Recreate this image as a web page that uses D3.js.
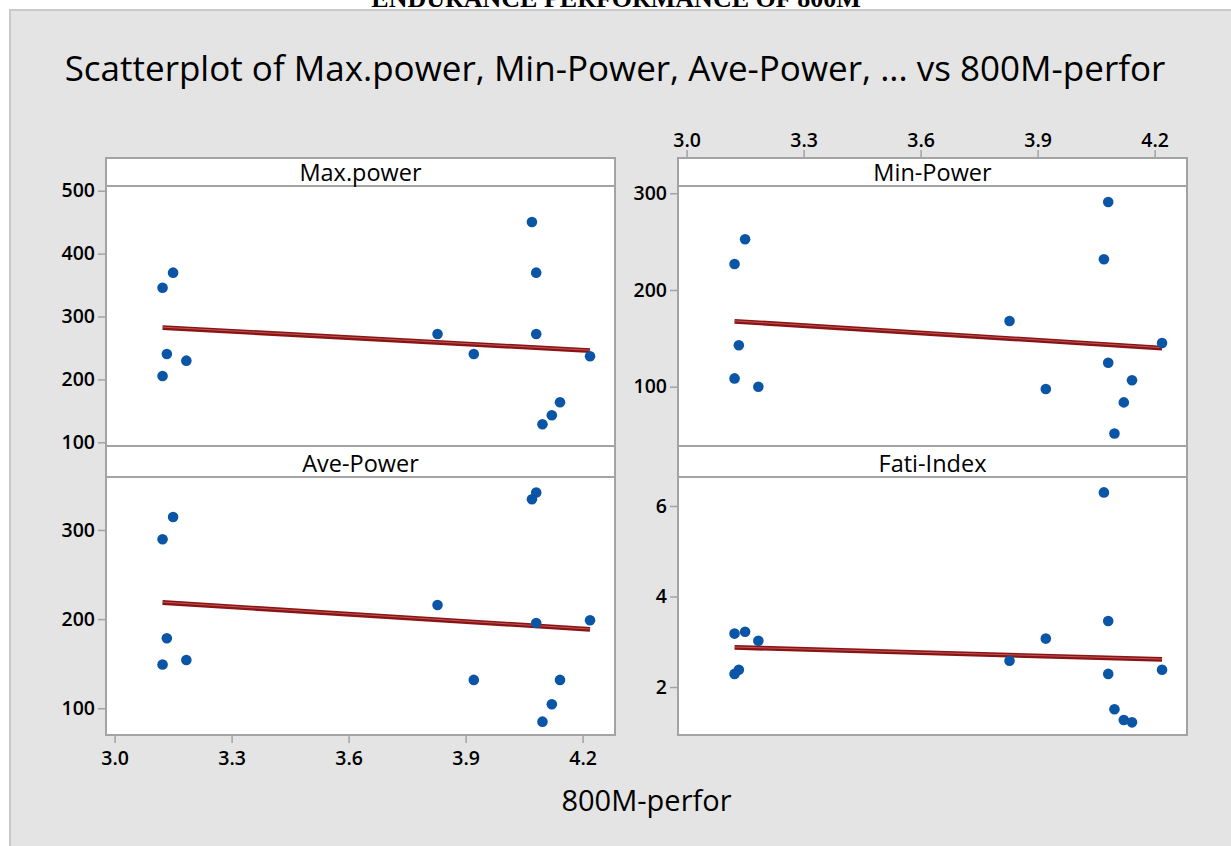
<!DOCTYPE html>
<html>
<head>
<meta charset="utf-8">
<script src="https://cdn.jsdelivr.net/npm/d3@7"></script>
<style>
  html, body { margin: 0; padding: 0; background: #ffffff; }
  svg { display: block; }
  text { font-family: "Open Sans", "Noto Sans", sans-serif; fill: #000; }
</style>
</head>
<body>
<svg id="chart" width="1231" height="846"></svg>
<script>
// 800 m performance time for each athlete (shared x in every panel)
const perfor = [3.123, 3.123, 3.134, 3.150, 3.184, 3.828, 3.921, 4.070, 4.081, 4.081, 4.097, 4.121, 4.142, 4.219];

// Responses, one value per athlete in the same order as `perfor`
const maxPower  = [345.8, 205.4, 240.4, 369.7, 229.8, 272.2, 240.4, 450.2, 369.7, 272.2, 128.6, 142.9, 163.6, 236.7];
const minPower  = [226.9, 108.6, 142.8, 252.4, 100.0, 167.9, 97.6, 231.7, 291.0, 124.8, 51.7, 83.8, 106.6, 145.2];
const avePower  = [289.5, 149.0, 178.5, 314.6, 154.2, 215.9, 131.8, 334.4, 341.9, 195.7, 85.0, 104.5, 131.8, 198.7];
const fatiIndex = [3.18, 2.29, 2.38, 3.22, 3.02, 2.58, 3.07, 6.30, 3.46, 2.29, 1.51, 1.27, 1.22, 2.38];

const panelNames = ["Max.power", "Min-Power", "Ave-Power", "Fati-Index"];
const xTicks = [3.0, 3.3, 3.6, 3.9, 4.2];
const maxTicks = [100, 200, 300, 400, 500];
const minTicks = [100, 200, 300];
const aveTicks = [100, 200, 300];
const fatiTicks = [2, 4, 6];

const chartTitle = "Scatterplot of Max.power, Min-Power, Ave-Power, ... vs 800M-perfor";
const xTitle = "800M-perfor";
const docHeading = "ENDURANCE PERFORMANCE OF 800M";

const svg = d3.select("#chart");

// Page heading partially hidden above the graph window
svg.append("text")
  .attr("x", 616).attr("y", 7)
  .attr("text-anchor", "middle")
  .style("font-family", "'Liberation Serif', 'DejaVu Serif', serif")
  .style("font-weight", "bold")
  .style("font-size", "26px")
  .text(docHeading);

// Graph window background
svg.append("rect")
  .attr("x", 10).attr("y", 10).attr("width", 1231).attr("height", 846)
  .attr("fill", "#e4e4e4").attr("stroke", "#c9c9c9").attr("stroke-width", 2);

svg.append("text")
  .attr("x", 615).attr("y", 81)
  .attr("text-anchor", "middle")
  .style("font-size", "35px")
  .style("font-weight", "500")
  .text(chartTitle);

// Panel geometry
const cols = [{ l: 106, r: 615 }, { l: 678, r: 1187 }];
const rows = [
  { top: 158, head: 186, bottom: 446 },
  { top: 446, head: 477, bottom: 735 }
];
const xDomain = [2.978, 4.283];

const panels = [
  { name: panelNames[0], values: maxPower,  ticks: maxTicks,  domain: [94.1, 507.5], col: 0, row: 0, fmt: d3.format("d") },
  { name: panelNames[1], values: minPower,  ticks: minTicks,  domain: [38.7, 307.5], col: 1, row: 0, fmt: d3.format("d") },
  { name: panelNames[2], values: avePower,  ticks: aveTicks,  domain: [70, 359.4],   col: 0, row: 1, fmt: d3.format("d") },
  { name: panelNames[3], values: fatiIndex, ticks: fatiTicks, domain: [0.94, 6.64],  col: 1, row: 1, fmt: d3.format("d") }
];

const gridColor = "#a3a3a3";
const dotColor = "#0a55a5";

function styleAxis(g) {
  g.select(".domain").remove();
  g.selectAll(".tick line").attr("stroke", gridColor).attr("stroke-width", 1.5);
  g.selectAll(".tick text")
    .style("font-size", "19.5px")
    .style("font-weight", "600")
    .attr("fill", "#000");
}

function leastSquares(xs, ys) {
  const mx = d3.mean(xs), my = d3.mean(ys);
  let sxy = 0, sxx = 0;
  xs.forEach((x, i) => { sxy += (x - mx) * (ys[i] - my); sxx += (x - mx) * (x - mx); });
  const b = sxy / sxx;
  return x => my + b * (x - mx);
}

panels.forEach(p => {
  const c = cols[p.col], r = rows[p.row];
  const x = d3.scaleLinear().domain(xDomain).range([c.l, c.r]);
  const y = d3.scaleLinear().domain(p.domain).range([r.bottom, r.head]);
  const g = svg.append("g");

  // Panel body and strip
  g.append("rect")
    .attr("x", c.l).attr("y", r.top).attr("width", c.r - c.l).attr("height", r.bottom - r.top)
    .attr("fill", "#ffffff");
  g.append("line")
    .attr("x1", c.l).attr("x2", c.r).attr("y1", r.head).attr("y2", r.head)
    .attr("stroke", gridColor).attr("stroke-width", 2);
  g.append("rect")
    .attr("x", c.l).attr("y", r.top).attr("width", c.r - c.l).attr("height", r.bottom - r.top)
    .attr("fill", "none").attr("stroke", gridColor).attr("stroke-width", 2);
  g.append("text")
    .attr("x", (c.l + c.r) / 2).attr("y", r.head - 5)
    .attr("text-anchor", "middle")
    .style("font-size", "23.5px")
    .style("font-weight", "500")
    .text(p.name);

  // Y axis on the left of every panel
  const ya = g.append("g")
    .attr("transform", `translate(${c.l - 1},0)`)
    .call(d3.axisLeft(y).tickValues(p.ticks).tickFormat(p.fmt).tickSize(7).tickPadding(3));
  styleAxis(ya);

  // Fitted line
  const fit = leastSquares(perfor, p.values);
  const x0 = d3.min(perfor), x1 = d3.max(perfor);
  g.append("line")
    .attr("x1", x(x0)).attr("y1", y(fit(x0)))
    .attr("x2", x(x1)).attr("y2", y(fit(x1)))
    .attr("stroke", "#8a1414").attr("stroke-width", 4.8);
  g.append("line")
    .attr("x1", x(x0)).attr("y1", y(fit(x0)) - 0.4)
    .attr("x2", x(x1)).attr("y2", y(fit(x1)) - 0.4)
    .attr("stroke", "#d27070").attr("stroke-width", 0.9).attr("stroke-opacity", 0.8);

  // Observations
  g.selectAll("circle")
    .data(perfor.map((v, i) => [v, p.values[i]]))
    .join("circle")
    .attr("cx", d => x(d[0]))
    .attr("cy", d => y(d[1]))
    .attr("r", 5.3)
    .attr("fill", dotColor);

  // X axes: bottom under the lower-left panel, top above the upper-right panel
  if (p.col === 0 && p.row === 1) {
    const xa = g.append("g")
      .attr("transform", `translate(0,${r.bottom + 1})`)
      .call(d3.axisBottom(x).tickValues(xTicks).tickFormat(d3.format(".1f")).tickSize(7).tickPadding(8));
    styleAxis(xa);
  }
  if (p.col === 1 && p.row === 0) {
    const xa = g.append("g")
      .attr("transform", `translate(0,${r.top - 1})`)
      .call(d3.axisTop(x).tickValues(xTicks).tickFormat(d3.format(".1f")).tickSize(7).tickPadding(3));
    styleAxis(xa);
  }
});

svg.append("text")
  .attr("x", (cols[0].l + cols[1].r) / 2).attr("y", 811)
  .attr("text-anchor", "middle")
  .style("font-size", "29px")
  .style("font-weight", "500")
  .text(xTitle);
</script>
</body>
</html>
